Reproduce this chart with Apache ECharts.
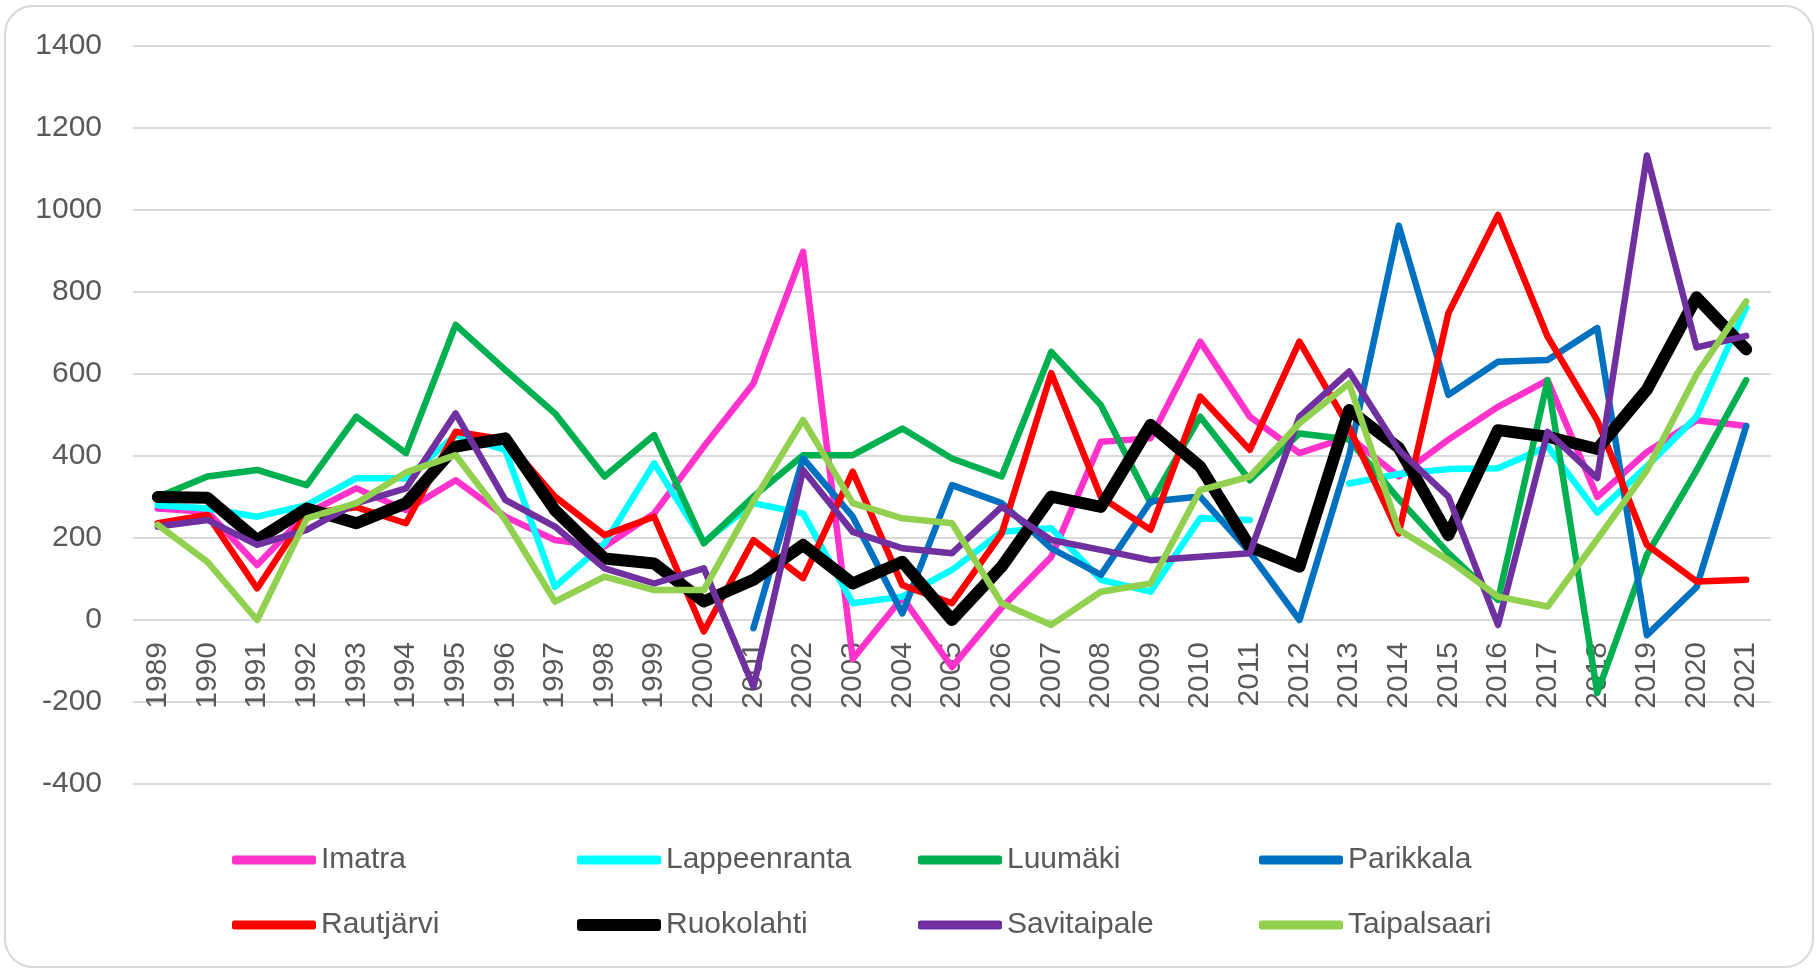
<!DOCTYPE html>
<html>
<head>
<meta charset="utf-8">
<script src="https://cdn.jsdelivr.net/npm/echarts@6/dist/echarts.min.js"></script>
<style>
  html, body { margin: 0; padding: 0; background: #ffffff; }
  #chart { width: 1820px; height: 973px; }
</style>
</head>
<body>
<div id="chart"></div>
<script>
const years = ['1989','1990','1991','1992','1993','1994','1995','1996','1997','1998','1999','2000','2001','2002','2003','2004','2005','2006','2007','2008','2009','2010','2011','2012','2013','2014','2015','2016','2017','2018','2019','2020','2021'];

const imatra       = [272, 264, 134, 260, 321, 268, 341, 252, 195, 179, 260, 423, 577, 898, -95, 55, -115, 30, 154, 435, 443, 679, 496, 407, 447, 350, 440, 520, 585, 300, 410, 487, 473];
const lappeenranta = [280, 272, 252, 280, 346, 346, 451, 415, 81, 187, 382, 190, 285, 260, 41, 57, 122, 215, 224, 98, 69, 248, 244, null, 333, 356, 368, 370, 423, 262, 375, 496, 763];
const luumaki      = [300, 350, 366, 329, 496, 407, 720, 610, 504, 350, 451, 187, 301, 402, 402, 467, 394, 350, 654, 524, 285, 496, 341, 455, 440, 295, 163, 49, 585, -178, 159, 365, 585];
const parikkala    = [null, null, null, null, null, null, null, null, null, null, null, null, -20, 394, 252, 16, 329, 285, 175, 110, 289, 301, 165, 0, 400, 962, 549, 630, 634, 712, -37, 80, 473];
const rautjarvi    = [236, 256, 77, 260, 275, 236, 459, 440, 301, 207, 252, -28, 195, 102, 362, 85, 41, 211, 602, 300, 220, 545, 415, 679, 470, 211, 748, 988, 691, 487, 183, 94, 98];
const ruokolahti   = [300, 298, 195, 272, 236, 285, 423, 443, 268, 150, 138, 45, 98, 183, 89, 142, 0, 130, 301, 276, 476, 374, 179, 130, 512, 420, 207, 463, 447, 417, 562, 787, 660];
const savitaipale  = [228, 244, 183, 220, 285, 321, 504, 293, 228, 126, 89, 126, -163, 366, 215, 175, 163, 276, 195, 171, 146, 154, 163, 496, 606, 415, 301, -12, 459, 346, 1133, 665, 693];
const taipalsaari  = [232, 142, 0, 248, 285, 360, 402, 244, 45, 106, 73, 73, 290, 488, 285, 248, 236, 41, -12, 69, 89, 317, 350, 480, 577, 220, 146, 57, 33, 197, 365, 599, 777];

const seriesNames  = ['Imatra', 'Lappeenranta', 'Luumäki', 'Parikkala', 'Rautjärvi', 'Ruokolahti', 'Savitaipale', 'Taipalsaari'];
const seriesData   = [imatra, lappeenranta, luumaki, parikkala, rautjarvi, ruokolahti, savitaipale, taipalsaari];
const seriesColors = ['#FF33CC', '#00FFFF', '#00B050', '#0070C0', '#FF0000', '#000000', '#7030A0', '#92D050'];

const yTicks = { min: -400, max: 1400, interval: 200 };

const FONT = "'Liberation Sans', Arial, sans-serif";
const TEXT_COLOR = '#595959';

const GRID_TOP = 46, GRID_BOTTOM = 189, CHART_H = 973;
const plotH = CHART_H - GRID_TOP - GRID_BOTTOM;
// distance of value 0 above the bottom of the plot (used to place the category axis on zero)
const zeroOffset = plotH * (0 - yTicks.min) / (yTicks.max - yTicks.min);

const legendLeft = [232, 577, 918, 1259];
const legendTop = [844, 909];

const legends = seriesNames.map((name, i) => ({
  data: [name],
  left: legendLeft[i % 4],
  top: legendTop[Math.floor(i / 4)],
  padding: 0,
  icon: 'roundRect',
  itemWidth: 84,
  itemHeight: name === 'Ruokolahti' ? 12 : 9,
  itemGap: 0,
  selectedMode: false,
  textStyle: { fontFamily: FONT, fontSize: 30, color: TEXT_COLOR, lineHeight: 32, padding: [0, 0, 0, 0] }
}));

const series = seriesNames.map((name, i) => ({
  name: name,
  type: 'line',
  data: seriesData[i],
  showSymbol: false,
  symbol: 'none',
  connectNulls: false,
  animation: false,
  color: seriesColors[i],
  lineStyle: {
    color: seriesColors[i],
    width: name === 'Ruokolahti' ? 12 : 6.5,
    cap: 'round',
    join: 'round'
  },
  emphasis: { disabled: true }
}));

const chart = echarts.init(document.getElementById('chart'), null, { renderer: 'canvas' });
chart.setOption({
  backgroundColor: '#ffffff',
  animation: false,
  graphic: [{
    type: 'rect',
    shape: { x: 5, y: 6, width: 1808, height: 961, r: 28 },
    style: { fill: 'none', stroke: '#d9d9d9', lineWidth: 2 },
    z: -10
  }],
  grid: { left: 133, right: 49, top: GRID_TOP, bottom: GRID_BOTTOM, containLabel: false },
  legend: legends,
  xAxis: {
    type: 'category',
    data: years,
    boundaryGap: true,
    position: 'bottom',
    offset: -zeroOffset,
    axisLine: { show: false, onZero: false },
    axisTick: { show: false },
    axisLabel: { rotate: 90, margin: 22, fontFamily: FONT, fontSize: 30, color: TEXT_COLOR, interval: 0 },
    splitLine: { show: false }
  },
  yAxis: {
    type: 'value',
    min: yTicks.min,
    max: yTicks.max,
    interval: yTicks.interval,
    axisLine: { show: false },
    axisTick: { show: false },
    axisLabel: { margin: 31, fontFamily: FONT, fontSize: 30, color: TEXT_COLOR, formatter: (v) => String(v) },
    splitLine: { show: true, lineStyle: { color: '#d9d9d9', width: 2 } }
  },
  series: series
});
</script>
</body>
</html>
